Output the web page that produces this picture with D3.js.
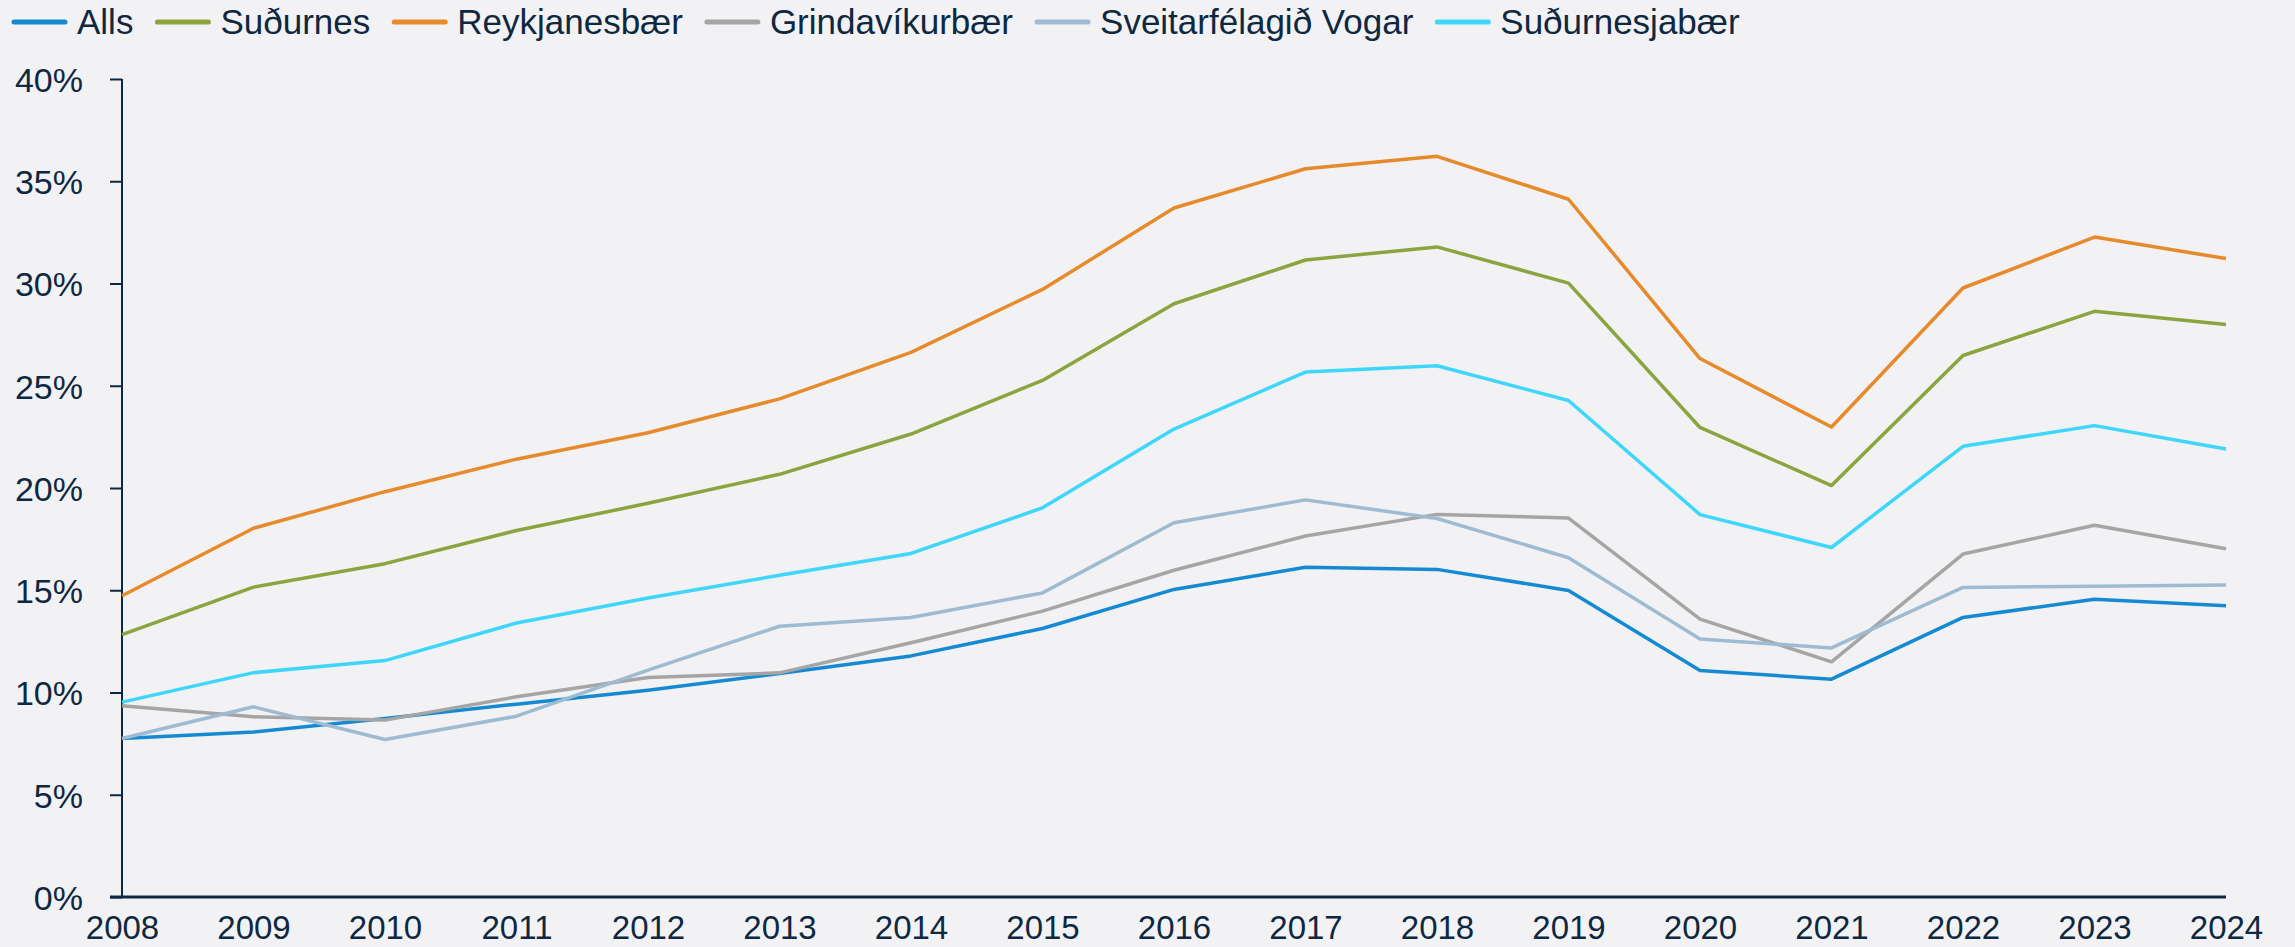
<!DOCTYPE html>
<html lang="is">
	<head>
		<meta charset="utf-8">
		<title>Suðurnes</title>
		<script type="text/javascript" src="https://d3js.org/d3.v7.min.js"></script>
		<style type="text/css">
			body { margin: 0; background: #f2f2f4; }
			svg { display: block; }
			.axis text { font-family: "Liberation Sans", Arial, sans-serif; font-size: 34px; fill: #0e2841; }
			.axis.xa text { font-size: 33px; }
			.legend text { font-family: "Liberation Sans", Arial, sans-serif; font-size: 35px; fill: #0e2841; }
		</style>
	</head>
	<body>
		<script type="text/javascript">

			// data, percent
			var years = [2008, 2009, 2010, 2011, 2012, 2013, 2014, 2015, 2016, 2017, 2018, 2019, 2020, 2021, 2022, 2023, 2024];
			var alls = [7.75, 8.07, 8.73, 9.43, 10.11, 10.93, 11.79, 13.13, 15.04, 16.12, 16.02, 14.99, 11.08, 10.65, 13.67, 14.56, 14.24];
			var sudurnes = [12.83, 15.15, 16.30, 17.92, 19.25, 20.67, 22.64, 25.26, 29.01, 31.15, 31.79, 30.02, 22.96, 20.12, 26.48, 28.64, 27.99];
			var reykjanesbaer = [14.73, 18.03, 19.82, 21.41, 22.70, 24.36, 26.63, 29.71, 33.69, 35.61, 36.22, 34.12, 26.33, 22.98, 29.78, 32.27, 31.22];
			var grindavik = [9.35, 8.81, 8.65, 9.79, 10.73, 10.96, 12.43, 13.98, 15.98, 17.65, 18.71, 18.53, 13.59, 11.50, 16.77, 18.18, 17.03];
			var vogar = [7.75, 9.30, 7.70, 8.84, 11.09, 13.24, 13.67, 14.87, 18.30, 19.42, 18.51, 16.59, 12.62, 12.18, 15.14, 15.19, 15.26];
			var sudurnesjabaer = [9.53, 10.97, 11.56, 13.40, 14.62, 15.73, 16.80, 19.03, 22.88, 25.67, 25.98, 24.28, 18.70, 17.09, 22.04, 23.05, 21.91];

			var seriesNames = ["Alls", "Suðurnes", "Reykjanesbær", "Grindavíkurbær", "Sveitarfélagið Vogar", "Suðurnesjabær"];
			var seriesValues = [alls, sudurnes, reykjanesbaer, grindavik, vogar, sudurnesjabaer];
			var seriesColors = ["#158ad2", "#8ca43f", "#e68a2c", "#a5a5a5", "#9dbbd2", "#3ed7fb"];
			var yTicks = [0, 5, 10, 15, 20, 25, 30, 35, 40];

			//Width and height
			var w = 2295;
			var h = 947;
			var margin = { left: 122, right: 69, top: 79, bottom: 50 };

			var svg = d3.select("body")
						.append("svg")
						.attr("width", w)
						.attr("height", h);

			svg.append("rect").attr("width", w).attr("height", h).attr("fill", "#f2f2f4");

			var x = d3.scalePoint()
					  .domain(years)
					  .range([margin.left, w - margin.right]);

			var y = d3.scaleLinear()
					  .domain([0, 40])
					  .range([h - margin.bottom, margin.top]);

			//y axis
			var yAxis = svg.append("g")
						   .attr("class", "axis")
						   .attr("transform", "translate(" + margin.left + ",0)")
						   .call(d3.axisLeft(y).tickValues(yTicks).tickSize(12).tickPadding(27).tickFormat(function(d) { return d + "%"; }));
			yAxis.selectAll("line").attr("stroke", "#0e2841").attr("stroke-width", 2);
			yAxis.select(".domain").attr("stroke", "#0e2841").attr("stroke-width", 2).attr("d", "M0," + y(40) + "V" + y(0));
			yAxis.selectAll("text").attr("dy", "0.36em");

			//x axis
			var xAxis = svg.append("g")
						   .attr("class", "axis xa")
						   .attr("transform", "translate(0," + y(0) + ")")
						   .call(d3.axisBottom(x).tickSize(0).tickPadding(19));
			xAxis.select(".domain").attr("stroke", "#0e2841").attr("stroke-width", 3).attr("d", "M" + (margin.left - 12) + ",0H" + (w - margin.right));
			xAxis.selectAll("text").attr("dy", "0.71em");

			//lines
			var line = d3.line()
						 .x(function(d, i) { return x(years[i]); })
						 .y(function(d) { return y(d); });

			svg.append("g")
			   .selectAll("path")
			   .data(seriesValues)
			   .enter()
			   .append("path")
			   .attr("d", line)
			   .attr("fill", "none")
			   .attr("stroke", function(d, i) { return seriesColors[i]; })
			   .attr("stroke-width", 3.5)
			   .attr("stroke-linejoin", "round");

			//legend
			var legend = svg.append("g").attr("class", "legend");
			var lx = 14;
			seriesNames.forEach(function(name, i) {
				legend.append("line")
					  .attr("x1", lx).attr("x2", lx + 51)
					  .attr("y1", 22).attr("y2", 22)
					  .attr("stroke", seriesColors[i])
					  .attr("stroke-width", 5)
					  .attr("stroke-linecap", "round");
				var t = legend.append("text")
							  .attr("x", lx + 63)
							  .attr("y", 34)
							  .text(name);
				lx = lx + 63 + t.node().getComputedTextLength() + 24;
			});

		</script>
	</body>
</html>
